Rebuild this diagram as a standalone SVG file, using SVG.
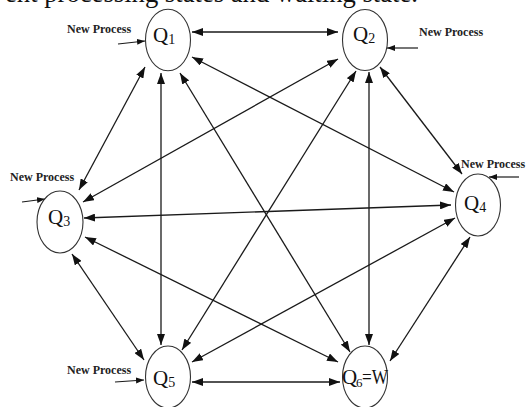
<svg xmlns="http://www.w3.org/2000/svg" width="526" height="407" viewBox="0 0 526 407">
<style>
.node{fill:none;stroke:#333;stroke-width:1.1}
.lbl{font-family:"Liberation Serif",serif;fill:#111}
.q{font-size:21px}
.sub{font-size:14px}
.np{font-family:"Liberation Serif",serif;font-weight:bold;font-size:12px;fill:#222}
.edge{stroke:#1a1a1a;stroke-width:1.3;fill:none;marker-start:url(#ah);marker-end:url(#ah)}
.in{stroke:#1a1a1a;stroke-width:1.2;fill:none;marker-end:url(#ahs)}
</style>
<defs>
<marker id="ah" viewBox="0 0 11 8" refX="11" refY="4" markerWidth="11" markerHeight="8" markerUnits="userSpaceOnUse" orient="auto-start-reverse">
<path d="M0,0 L11,4 L0,8 z" fill="#111"/>
</marker>
<marker id="ahs" viewBox="0 0 8 6" refX="8" refY="3" markerWidth="8" markerHeight="6" markerUnits="userSpaceOnUse" orient="auto">
<path d="M0,0 L8,3 L0,6 z" fill="#111"/>
</marker>
</defs>
<rect width="526" height="407" fill="#fff"/>
<text x="5" y="1.5" font-family="Liberation Serif, serif" font-size="26.5" fill="#111" textLength="413" lengthAdjust="spacingAndGlyphs">ent processing states and waiting state.</text>
<g id="connectors">
<line class="edge" x1="192" y1="32" x2="338" y2="32"/>
<line class="edge" x1="145" y1="67" x2="79" y2="190"/>
<line class="edge" x1="161" y1="73" x2="161" y2="345"/>
<line class="edge" x1="180" y1="73" x2="350" y2="352"/>
<line class="edge" x1="192" y1="57" x2="454" y2="192"/>
<line class="edge" x1="338" y1="59" x2="83" y2="202"/>
<line class="edge" x1="356" y1="71" x2="182" y2="350"/>
<line class="edge" x1="369" y1="72" x2="369" y2="345"/>
<line class="edge" x1="380" y1="67" x2="462" y2="174"/>
<line class="edge" x1="84" y1="218" x2="451" y2="205"/>
<line class="edge" x1="72" y1="254" x2="144" y2="360"/>
<line class="edge" x1="85" y1="237" x2="338" y2="362"/>
<line class="edge" x1="455" y1="218" x2="192" y2="362"/>
<line class="edge" x1="470" y1="237" x2="390" y2="361"/>
<line class="edge" x1="192" y1="382" x2="340" y2="382"/>
<line class="in" x1="118" y1="44" x2="145" y2="41"/>
<line class="in" x1="418" y1="48" x2="387" y2="48"/>
<line class="in" x1="22" y1="202" x2="45" y2="199"/>
<line class="in" x1="519" y1="177" x2="489" y2="177"/>
<line class="in" x1="115" y1="382" x2="144" y2="380"/>
</g>
<g id="Q1">
<ellipse class="node" cx="168" cy="40" rx="22.5" ry="30.7"/>
<text class="lbl" x="153" y="42"><tspan class="q">Q</tspan><tspan class="sub" dy="2">1</tspan></text>
<text class="np" x="67" y="33">New Process</text>
</g>
<g id="Q2">
<ellipse class="node" cx="365" cy="40" rx="22.5" ry="30.5"/>
<text class="lbl" x="353" y="41"><tspan class="q">Q</tspan><tspan class="sub" dy="2">2</tspan></text>
<text class="np" x="419" y="36">New Process</text>
</g>
<g id="Q3">
<ellipse class="node" cx="60" cy="222" rx="23" ry="31"/>
<text class="lbl" x="48" y="224"><tspan class="q">Q</tspan><tspan class="sub" dy="2">3</tspan></text>
<text class="np" x="10" y="181">New Process</text>
</g>
<g id="Q4">
<ellipse class="node" cx="478" cy="205" rx="22.5" ry="31"/>
<text class="lbl" x="464" y="210"><tspan class="q">Q</tspan><tspan class="sub" dy="2">4</tspan></text>
<text class="np" x="461" y="168">New Process</text>
</g>
<g id="Q5">
<ellipse class="node" cx="168" cy="377" rx="22.5" ry="31"/>
<text class="lbl" x="153" y="385"><tspan class="q">Q</tspan><tspan class="sub" dy="2">5</tspan></text>
<text class="np" x="67" y="374">New Process</text>
</g>
<g id="Q6">
<ellipse class="node" cx="365" cy="377" rx="22.5" ry="31"/>
<text class="lbl q" x="342" y="384">Q</text>
<text class="lbl" x="356" y="387" font-size="13">6</text>
<text class="lbl q" x="362" y="384" textLength="26" lengthAdjust="spacingAndGlyphs">=W</text>
</g>
</svg>
